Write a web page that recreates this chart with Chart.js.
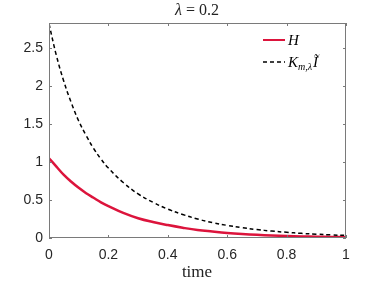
<!DOCTYPE html>
<html>
<head>
<meta charset="utf-8">
<script src="https://cdn.jsdelivr.net/npm/chart.js@4"></script>
<style>
  html, body { margin: 0; padding: 0; background: #fff; }
  #wrap { width: 382px; height: 286px; }
</style>
</head>
<body>
<div id="wrap"><canvas id="myChart" width="382" height="286"></canvas></div>
<script>
// values
var timeVals = [0, 0.025, 0.05, 0.075, 0.1, 0.125, 0.15, 0.175, 0.2, 0.25, 0.3, 0.35, 0.4, 0.45, 0.5, 0.55, 0.6, 0.65, 0.7, 0.75, 0.8, 0.85, 0.9, 0.95, 1.0];
var hVals = [1.05, 0.94, 0.83, 0.74, 0.66, 0.59, 0.53, 0.47, 0.42, 0.33, 0.26, 0.21, 0.17, 0.135, 0.105, 0.085, 0.067, 0.053, 0.042, 0.034, 0.027, 0.021, 0.017, 0.014, 0.011];
var kVals = [2.82, 2.40, 2.06, 1.78, 1.54, 1.35, 1.18, 1.04, 0.92, 0.73, 0.58, 0.47, 0.38, 0.31, 0.25, 0.203, 0.166, 0.136, 0.111, 0.091, 0.075, 0.061, 0.05, 0.041, 0.034];
var xTicks = [0, 0.2, 0.4, 0.6, 0.8, 1];
var yTicks = [0, 0.5, 1, 1.5, 2, 2.5];
var titleText = '0.2';
var xLabel = 'time';

function toPoints(ys) {
    return timeVals.map(function (t, i) { return { x: t, y: ys[i] }; });
}

var axisColor = '#7a7a7a';
var tickFont = { family: 'Liberation Sans', size: 14 };

// box round the plot with inward ticks, title, x label and legend
var decor = {
    id: 'decor',
    afterDraw: function (chart) {
        var ctx = chart.ctx;
        var a = chart.chartArea;
        var xs = chart.scales.x, ys = chart.scales.y;
        ctx.save();
        ctx.strokeStyle = axisColor;
        ctx.lineWidth = 1;
        ctx.strokeRect(a.left + 0.5, a.top + 0.5, a.right - a.left - 1, a.bottom - a.top - 1);
        ctx.beginPath();
        xTicks.forEach(function (v) {
            var px = Math.round(xs.getPixelForValue(v)) + 0.5;
            ctx.moveTo(px, a.bottom); ctx.lineTo(px, a.bottom - 3);
            ctx.moveTo(px, a.top); ctx.lineTo(px, a.top + 3);
        });
        yTicks.forEach(function (v) {
            var py = Math.round(ys.getPixelForValue(v)) + 0.5;
            ctx.moveTo(a.left, py); ctx.lineTo(a.left + 3, py);
            ctx.moveTo(a.right, py); ctx.lineTo(a.right - 3, py);
        });
        ctx.stroke();

        // title
        ctx.fillStyle = '#222';
        ctx.textBaseline = 'middle';
        ctx.font = 'italic 16px "Liberation Serif"';
        var w1 = ctx.measureText('\u03bb').width;
        ctx.font = '16px "Liberation Serif"';
        var rest = ' = ' + titleText;
        var w2 = ctx.measureText(rest).width;
        var tx = 197 - (w1 + w2) / 2;
        ctx.font = 'italic 16px "Liberation Serif"';
        ctx.fillText('\u03bb', tx, 11);
        ctx.font = '16px "Liberation Serif"';
        ctx.fillText(rest, tx + w1, 11);

        // x label
        ctx.textAlign = 'center';
        ctx.font = '17px "Liberation Serif"';
        ctx.fillText(xLabel, 197, 273);
        ctx.textAlign = 'left';

        // legend
        ctx.strokeStyle = 'rgb(220,20,60)';
        ctx.lineWidth = 2;
        ctx.beginPath(); ctx.moveTo(263, 40); ctx.lineTo(285, 40); ctx.stroke();
        ctx.strokeStyle = '#000';
        ctx.lineWidth = 1.5;
        ctx.setLineDash([4, 3]);
        ctx.beginPath(); ctx.moveTo(263, 62); ctx.lineTo(285, 62); ctx.stroke();
        ctx.setLineDash([]);
        ctx.fillStyle = '#000';
        ctx.font = 'italic 15px "Liberation Serif"';
        ctx.fillText('H', 288, 41);
        ctx.fillText('K', 288, 63);
        var kx = 288 + ctx.measureText('K').width;
        ctx.font = 'italic 10px "Liberation Serif"';
        ctx.fillText('m,\u03bb', kx, 67);
        kx += ctx.measureText('m,\u03bb').width + 1;
        ctx.font = 'italic 15px "Liberation Serif"';
        ctx.fillText('\u0128', kx, 63);
        ctx.restore();
    }
};

var ctx = document.getElementById('myChart').getContext('2d');
var myChart = new Chart(ctx, {
    type: 'line',
    data: {
        datasets: [
            {
                label: 'K',
                data: toPoints(kVals),
                borderColor: '#000',
                borderWidth: 1.5,
                borderDash: [4, 3],
                pointRadius: 0,
                tension: 0.4,
                order: 0
            },
            {
                label: 'H',
                data: toPoints(hVals),
                borderColor: 'rgb(220,20,60)',
                borderWidth: 2.5,
                pointRadius: 0,
                tension: 0.4,
                order: 1
            }
        ]
    },
    options: {
        responsive: false,
        animation: false,
        devicePixelRatio: 1,
        layout: { padding: { top: 23, right: 36, left: 0, bottom: 0 } },
        plugins: {
            legend: { display: false },
            tooltip: { enabled: false },
            title: { display: false }
        },
        scales: {
            x: {
                type: 'linear',
                min: 0,
                max: 1,
                grid: { display: false, drawTicks: false },
                border: { display: false },
                ticks: {
                    font: tickFont,
                    color: '#262626',
                    padding: 9,
                    maxRotation: 0,
                    callback: function (v) { return String(Math.round(v * 10) / 10); }
                },
                afterBuildTicks: function (scale) {
                    scale.ticks = xTicks.map(function (v) { return { value: v }; });
                },
                afterFit: function (scale) { scale.height = 48; }
            },
            y: {
                type: 'linear',
                min: 0,
                max: 2.83,
                grid: { display: false, drawTicks: false },
                border: { display: false },
                ticks: {
                    font: tickFont,
                    color: '#262626',
                    padding: 6,
                    callback: function (v) { return String(v); }
                },
                afterBuildTicks: function (scale) {
                    scale.ticks = yTicks.map(function (v) { return { value: v }; });
                },
                afterFit: function (scale) { scale.width = 49; }
            }
        }
    },
    plugins: [decor]
});
</script>
</body>
</html>
